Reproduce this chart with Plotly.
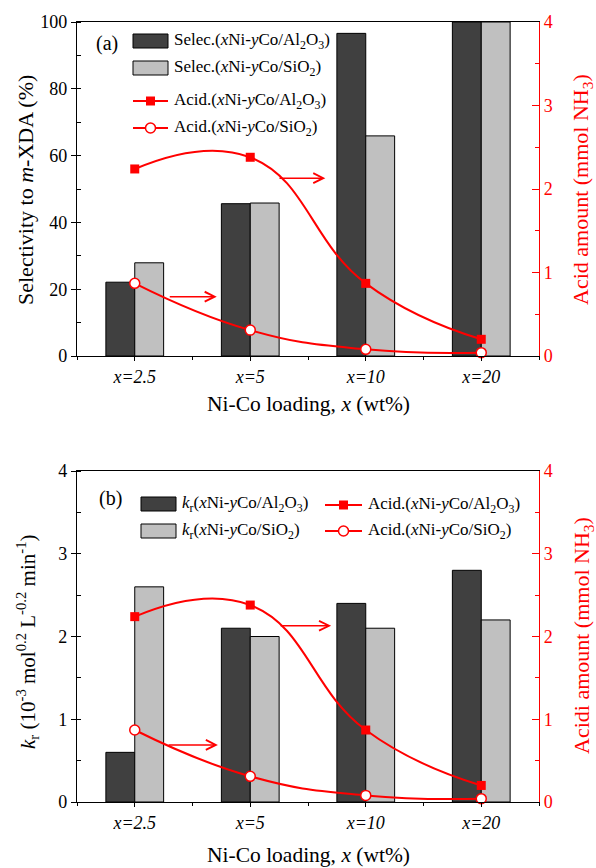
import plotly.graph_objects as go

# ---------------- data ----------------
categories = ["x=2.5", "x=5", "x=10", "x=20"]
selec_al = [22.1, 45.6, 96.6, 100.0]
selec_si = [27.9, 45.8, 65.9, 100.0]
kr_al = [0.6, 2.1, 2.4, 2.8]
kr_si = [2.6, 2.0, 2.1, 2.2]
acid_al = [2.24, 2.38, 0.87, 0.20]
acid_si = [0.87, 0.31, 0.08, 0.04]

xpos = list(range(len(categories)))
ticktext = [f"<i>{c}</i>" for c in categories]

# ---------------- layout geometry (pixels) ----------------
W, H = 596, 868
L, R, T, B = 77, 57, 22, 66
PW, PH = W - L - R, H - T - B


def px(x):
    return (x - L) / PW


def py(y):
    return (H - B - y) / PH


top_dom = [py(356), 1.0]
bot_dom = [0.0, py(471)]

DARK = "#404040"
LIGHT = "#c0c0c0"
RED = "#ff0000"
FONT = "Liberation Serif, Times New Roman, serif"

fig = go.Figure()

# top panel
fig.add_trace(go.Bar(x=xpos, y=selec_al, xaxis="x", yaxis="y", marker=dict(color=DARK, line=dict(color="black", width=1)), showlegend=False))
fig.add_trace(go.Bar(x=xpos, y=selec_si, xaxis="x", yaxis="y", marker=dict(color=LIGHT, line=dict(color="black", width=1)), showlegend=False))
fig.add_trace(go.Scatter(x=xpos, y=acid_al, xaxis="x", yaxis="y2", mode="lines+markers", line=dict(color=RED, width=2, shape="spline", smoothing=1.3), marker=dict(symbol="square", size=9, color=RED), showlegend=False, cliponaxis=False))
fig.add_trace(go.Scatter(x=xpos, y=acid_si, xaxis="x", yaxis="y2", mode="lines+markers", line=dict(color=RED, width=2, shape="spline", smoothing=1.3), marker=dict(symbol="circle", size=10, color="white", line=dict(color=RED, width=1.5)), showlegend=False, cliponaxis=False))

# bottom panel
fig.add_trace(go.Bar(x=xpos, y=kr_al, xaxis="x2", yaxis="y3", marker=dict(color=DARK, line=dict(color="black", width=1)), showlegend=False))
fig.add_trace(go.Bar(x=xpos, y=kr_si, xaxis="x2", yaxis="y3", marker=dict(color=LIGHT, line=dict(color="black", width=1)), showlegend=False))
fig.add_trace(go.Scatter(x=xpos, y=acid_al, xaxis="x2", yaxis="y4", mode="lines+markers", line=dict(color=RED, width=2, shape="spline", smoothing=1.3), marker=dict(symbol="square", size=9, color=RED), showlegend=False, cliponaxis=False))
fig.add_trace(go.Scatter(x=xpos, y=acid_si, xaxis="x2", yaxis="y4", mode="lines+markers", line=dict(color=RED, width=2, shape="spline", smoothing=1.3), marker=dict(symbol="circle", size=10, color="white", line=dict(color=RED, width=1.5)), showlegend=False, cliponaxis=False))

xcommon = dict(
    range=[-0.5, 3.5], tickmode="array", tickvals=xpos, ticktext=ticktext,
    ticks="outside", ticklen=4, tickwidth=1, tickcolor="black",
    minor=dict(ticks="outside", ticklen=3, tick0=-0.5, dtick=1, tickcolor="black"),
    showline=True, linecolor="black", linewidth=1.2, mirror=True,
    showgrid=False, zeroline=False,
    tickfont=dict(family=FONT, size=18, color="black"),
)
xtop = dict(
    range=[-0.5, 3.5], tickmode="array", tickvals=xpos, side="top",
    ticks="inside", ticklen=4, tickwidth=1, tickcolor="black",
    minor=dict(ticks="inside", ticklen=3, tick0=-0.5, dtick=1, tickcolor="black"),
    showticklabels=False, showline=False, showgrid=False, zeroline=False,
)
yleft = dict(
    ticks="outside", ticklen=5, tickwidth=1, tickcolor="black",
    showline=True, linecolor="black", linewidth=1.2,
    showgrid=False, zeroline=False,
    tickfont=dict(family=FONT, size=18, color="black"),
)
yright = dict(
    side="right", range=[0, 4], dtick=1, tick0=0,
    ticks="inside", ticklen=7, tickwidth=1, tickcolor=RED,
    minor=dict(ticks="inside", ticklen=4, dtick=0.5, tickcolor=RED),
    showline=True, linecolor=RED, linewidth=1.2,
    showgrid=False, zeroline=False,
    tickfont=dict(family=FONT, size=18, color=RED),
)

fig.update_layout(
    width=W, height=H,
    margin=dict(l=L, r=R, t=T, b=B),
    paper_bgcolor="white", plot_bgcolor="white",
    barmode="group", bargap=0.5, bargroupgap=0,
    xaxis=dict(domain=[0, 1], anchor="y", **xcommon),
    yaxis=dict(domain=top_dom, anchor="x", range=[0, 100], dtick=20,
               minor=dict(ticks="inside", ticklen=4, dtick=10, tickcolor="black"), **yleft),
    yaxis2=dict(domain=top_dom, anchor="x", overlaying="y", **yright),
    xaxis2=dict(domain=[0, 1], anchor="y3", **xcommon),
    yaxis3=dict(domain=bot_dom, anchor="x2", range=[0, 4], dtick=1,
                minor=dict(ticks="inside", ticklen=4, dtick=0.5, tickcolor="black"), **yleft),
    yaxis4=dict(domain=bot_dom, anchor="x2", overlaying="y3", **yright),
    xaxis3=dict(overlaying="x", anchor="y", **xtop),
    xaxis4=dict(overlaying="x2", anchor="y3", **xtop),
    font=dict(family=FONT, color="black", size=18),
)

ann = []
shapes = []

# axis titles
TF = dict(family=FONT, size=22, color="black")
TFR = dict(family=FONT, size=22, color=RED)
ann.append(dict(x=px(25), y=py(190), xref="paper", yref="paper", text="Selectivity to <i>m</i>-XDA (%)",
                textangle=-90, showarrow=False, font=TF, xanchor="center", yanchor="middle"))
ann.append(dict(x=px(582), y=py(190), xref="paper", yref="paper", text="Acid amount (mmol NH<sub>3</sub>)",
                textangle=-90, showarrow=False, font=TFR, xanchor="center", yanchor="middle"))
ann.append(dict(x=px(308), y=py(404), xref="paper", yref="paper", text="Ni-Co loading, <i>x</i> (wt%)",
                showarrow=False, font=dict(family=FONT, size=21.5, color="black"), xanchor="center", yanchor="middle"))
ann.append(dict(x=px(27), y=py(642), xref="paper", yref="paper",
                text="<i>k</i><sub>r</sub> (10<sup>-3</sup> mol<sup>0.2</sup> L<sup>-0.2</sup> min<sup>-1</sup>)",
                textangle=-90, showarrow=False, font=dict(family=FONT, size=21, color="black"), xanchor="center", yanchor="middle"))
ann.append(dict(x=px(583), y=py(636), xref="paper", yref="paper", text="Acidi amount (mmol NH<sub>3</sub>)",
                textangle=-90, showarrow=False, font=TFR, xanchor="center", yanchor="middle"))
ann.append(dict(x=px(308), y=py(855), xref="paper", yref="paper", text="Ni-Co loading, <i>x</i> (wt%)",
                showarrow=False, font=dict(family=FONT, size=21.5, color="black"), xanchor="center", yanchor="middle"))

# panel labels
PF = dict(family=FONT, size=20, color="black")
ann.append(dict(x=px(94), y=py(43), xref="paper", yref="paper", text="(a)", showarrow=False, font=PF, xanchor="left", yanchor="middle"))
ann.append(dict(x=px(97), y=py(498), xref="paper", yref="paper", text="(b)", showarrow=False, font=PF, xanchor="left", yanchor="middle"))

LF = dict(family=FONT, size=17, color="black")


def bar_item(x0, x1, yc, color, label):
    shapes.append(dict(type="rect", xref="paper", yref="paper", x0=px(x0), x1=px(x1), y0=py(yc - 7), y1=py(yc + 7),
                       fillcolor=color, line=dict(color="black", width=1)))
    ann.append(dict(x=px(x1 + 4), y=py(yc), xref="paper", yref="paper", text=label, showarrow=False,
                    font=LF, xanchor="left", yanchor="middle"))


def line_item(x0, x1, yc, kind, label):
    shapes.append(dict(type="line", xref="paper", yref="paper", x0=px(x0), x1=px(x1), y0=py(yc), y1=py(yc),
                       line=dict(color=RED, width=2)))
    xm = (x0 + x1) / 2
    if kind == "square":
        shapes.append(dict(type="rect", xref="paper", yref="paper", x0=px(xm - 4.5), x1=px(xm + 4.5),
                           y0=py(yc - 4.5), y1=py(yc + 4.5), fillcolor=RED, line=dict(color=RED, width=0)))
    else:
        shapes.append(dict(type="circle", xref="paper", yref="paper", x0=px(xm - 5), x1=px(xm + 5),
                           y0=py(yc - 5), y1=py(yc + 5), fillcolor="white", line=dict(color=RED, width=1.5)))
    ann.append(dict(x=px(x1 + 4), y=py(yc), xref="paper", yref="paper", text=label, showarrow=False,
                    font=LF, xanchor="left", yanchor="middle"))


lab_sel_al = "Selec.(<i>x</i>Ni-<i>y</i>Co/Al<sub>2</sub>O<sub>3</sub>)"
lab_sel_si = "Selec.(<i>x</i>Ni-<i>y</i>Co/SiO<sub>2</sub>)"
lab_acid_al = "Acid.(<i>x</i>Ni-<i>y</i>Co/Al<sub>2</sub>O<sub>3</sub>)"
lab_acid_si = "Acid.(<i>x</i>Ni-<i>y</i>Co/SiO<sub>2</sub>)"
lab_kr_al = "<i>k</i><sub>r</sub>(<i>x</i>Ni-<i>y</i>Co/Al<sub>2</sub>O<sub>3</sub>)"
lab_kr_si = "<i>k</i><sub>r</sub>(<i>x</i>Ni-<i>y</i>Co/SiO<sub>2</sub>)"

bar_item(133, 168, 41, DARK, lab_sel_al)
bar_item(133, 168, 68, LIGHT, lab_sel_si)
line_item(133, 168, 101, "square", lab_acid_al)
line_item(133, 168, 128, "circle", lab_acid_si)

bar_item(141, 176, 504, DARK, lab_kr_al)
bar_item(141, 176, 531, LIGHT, lab_kr_si)
line_item(325, 362, 505, "square", lab_acid_al)
line_item(325, 362, 531, "circle", lab_acid_si)

# arrows pointing toward right axis
AR = dict(showarrow=True, arrowhead=5, arrowsize=1.3, arrowwidth=1.5, arrowcolor=RED, text="")
ann.append(dict(x=1.65, y=2.13, ax=1.24, ay=2.13, xref="x", yref="y2", axref="x", ayref="y2", **AR))
ann.append(dict(x=0.71, y=0.71, ax=0.29, ay=0.71, xref="x", yref="y2", axref="x", ayref="y2", **AR))
ann.append(dict(x=1.70, y=2.13, ax=1.25, ay=2.13, xref="x2", yref="y4", axref="x2", ayref="y4", **AR))
ann.append(dict(x=0.72, y=0.69, ax=0.28, ay=0.69, xref="x2", yref="y4", axref="x2", ayref="y4", **AR))

fig.update_layout(annotations=ann, shapes=shapes)

fig.write_html("out.html")
